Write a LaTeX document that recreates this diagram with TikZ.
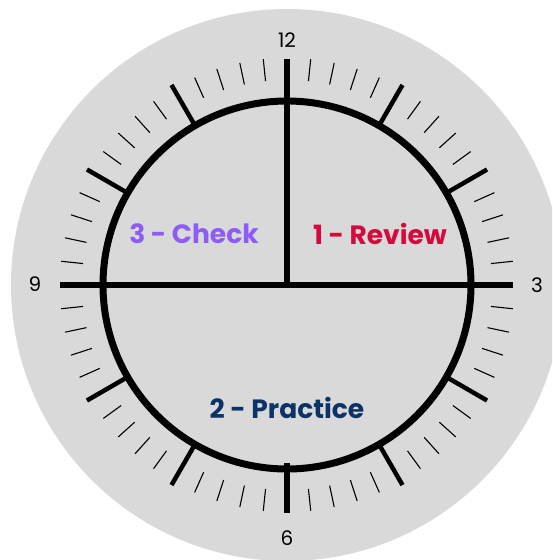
\documentclass[tikz,border=0pt]{standalone}
\usepackage{fontspec}
\setmainfont{Poppins}
\usetikzlibrary{calc}
\definecolor{bggrey}{HTML}{D9D9D9}
\definecolor{revred}{HTML}{D40A3C}
\definecolor{chkpurple}{HTML}{8B5CF6}
\definecolor{pracnavy}{HTML}{0B3366}
\begin{document}
\begin{tikzpicture}[x=1pt,y=-1pt,
  minutetick/.style={line width=1.1pt,black},
  hourtick/.style={line width=4.5pt,black},
  mainline/.style={line width=6pt,black},
  ring/.style={line width=7pt,black},
  hournum/.style={font=\fontsize{20}{20}\selectfont,text=black,inner sep=0pt},
  phase/.style={font=\fontsize{26.5}{26.5}\selectfont\bfseries,inner sep=0pt}]
\useasboundingbox (0,0) rectangle (552,560);
\clip (0,0) rectangle (552,560);
\coordinate (c) at (287,285);
\fill[bggrey] (c) circle[radius=276];
\foreach \m in {1,...,59}{
  \pgfmathtruncatemacro\rr{mod(\m,5)}
  \ifnum\rr>0
    \draw[minutetick] ($(c)+(\m*6-90:205)$) -- ($(c)+(\m*6-90:227)$);
  \fi
}
\foreach \h in {1,2,4,5,7,8,10,11}{
  \draw[hourtick] ($(c)+(\h*30-90:186)$) -- ($(c)+(\h*30-90:231)$);
}
\draw[ring] (c) circle[radius=184];
\coordinate (top) at (287,59);
\coordinate (left) at (60,285);
\coordinate (right) at (513,285);
\coordinate (bota) at (287,463);
\coordinate (botb) at (287,513);
\draw[mainline] (left) -- (right);
\draw[mainline] (top) -- (c);
\draw[mainline] (bota) -- (botb);
\node[hournum] (n12) at (287,40) {12};
\node[hournum] (n6) at (287,538) {6};
\node[hournum] (n9) at (35,284) {9};
\node[hournum] (n3) at (537,285) {3};
\node[phase,text=revred] (review) at (380,234) {1 - Review};
\node[phase,text=chkpurple] (check) at (194,234) {3 - Check};
\node[phase,text=pracnavy] (practice) at (287,408) {2 - Practice};
\end{tikzpicture}
\end{document}
